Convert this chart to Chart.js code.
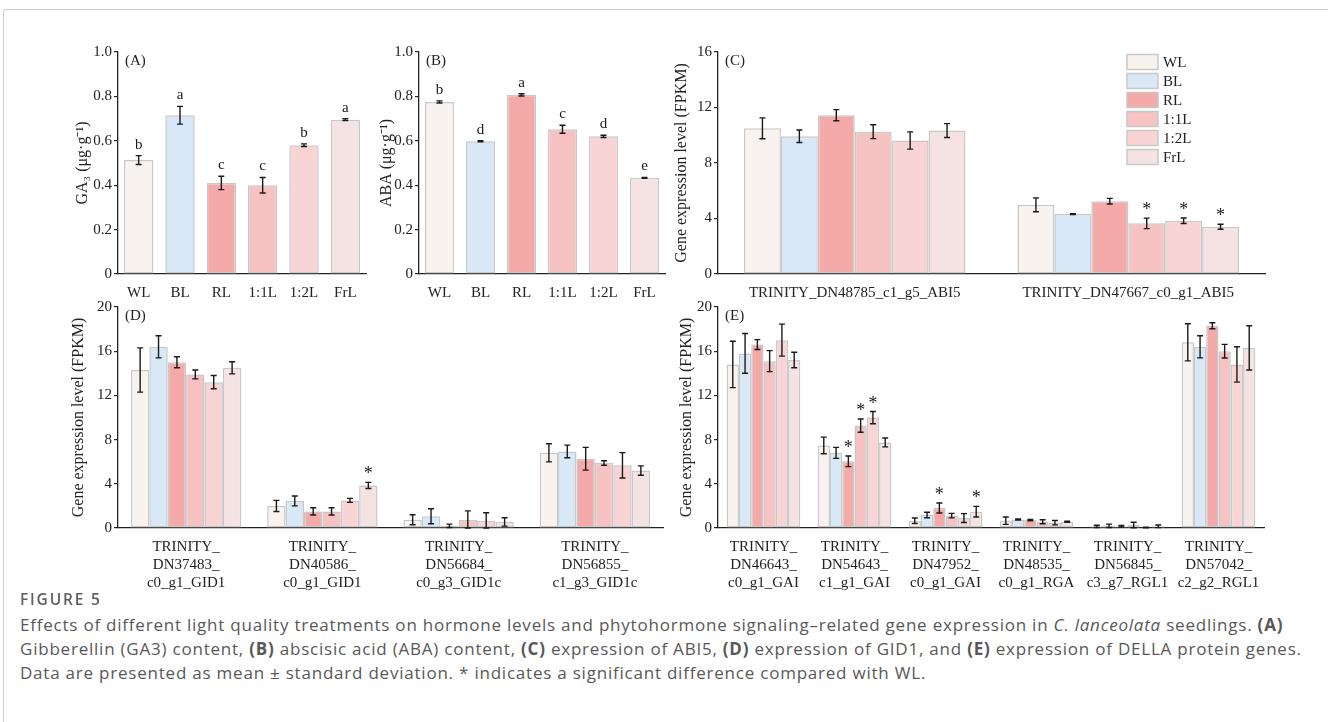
<!DOCTYPE html>
<html>
<head>
<meta charset="utf-8">
<script src="https://cdn.jsdelivr.net/npm/chart.js@4.4.0/dist/chart.umd.min.js"></script>
<style>
  body { margin: 0; background: #fff; width: 1328px; height: 722px; overflow: hidden; position: relative; }
  .frame { position: absolute; left: 3px; top: 9px; width: 1340px; height: 730px;
           border-top: 1.5px solid #cfcfcf; border-left: 1.5px solid #cfcfcf; border-top-left-radius: 3px; }
  canvas { position: absolute; }
  .fig { position: absolute; left: 20px; top: 588px; font-family: 'Open Sans', sans-serif; font-size: 15.5px;
         font-weight: 600; letter-spacing: 1.8px; color: #5f5f5f; }
  .cap { position: absolute; left: 20px; top: 613px; font-family: 'Open Sans', sans-serif; font-size: 17px;
         letter-spacing: 0.78px; line-height: 24px; color: #585858; white-space: nowrap; }
</style>
</head>
<body>
<div class="frame"></div>
<canvas id="chartA" width="332" height="277" style="left:40px;top:38px"></canvas>
<canvas id="chartB" width="300" height="277" style="left:372px;top:38px"></canvas>
<canvas id="chartC" width="600" height="277" style="left:672px;top:38px"></canvas>
<canvas id="chartD" width="632" height="310" style="left:40px;top:295px"></canvas>
<canvas id="chartE" width="600" height="310" style="left:672px;top:295px"></canvas>
<div class="fig">FIGURE 5</div>
<div class="cap">Effects of different light quality treatments on hormone levels and phytohormone signaling–related gene expression in <i>C. lanceolata</i> seedlings. <b>(A)</b><br>Gibberellin (GA3) content, <b>(B)</b> abscisic acid (ABA) content, <b>(C)</b> expression of ABI5, <b>(D)</b> expression of GID1, and <b>(E)</b> expression of DELLA protein genes.<br>Data are presented as mean ± standard deviation. * indicates a significant difference compared with WL.</div>
<script>
const treatments = ['WL', 'BL', 'RL', '1:1L', '1:2L', 'FrL'];
const fills = ['#f9f3ef', '#d8e8f7', '#f3aaa9', '#f6c3c2', '#f8d5d4', '#f5e3e3'];

// (A) GA3
const ga3 = [0.513, 0.715, 0.41, 0.40, 0.58, 0.695];
const ga3Sd = [0.02, 0.04, 0.03, 0.035, 0.006, 0.004];
const ga3Letters = ['b', 'a', 'c', 'c', 'b', 'a'];

// (B) ABA
const aba = [0.775, 0.598, 0.807, 0.652, 0.62, 0.433];
const abaSd = [0.005, 0.003, 0.005, 0.018, 0.005, 0.002];
const abaLetters = ['b', 'd', 'a', 'c', 'd', 'e'];

// (C) ABI5 - one row per treatment
const abi5Genes = ['TRINITY_DN48785_c1_g5_ABI5', 'TRINITY_DN47667_c0_g1_ABI5'];
const abi5Mean = [[10.5, 4.99], [9.93, 4.32], [11.45, 5.25], [10.26, 3.65], [9.62, 3.84], [10.34, 3.41]];
const abi5Sd = [[0.75, 0.5], [0.45, 0.03], [0.4, 0.2], [0.5, 0.38], [0.62, 0.2], [0.5, 0.18]];
const abi5Sig = [['', ''], ['', ''], ['', ''], ['', '*'], ['', '*'], ['', '*']];

// (D) GID1
const gid1Genes = [
  ['TRINITY_', 'DN37483_', 'c0_g1_GID1'],
  ['TRINITY_', 'DN40586_', 'c0_g1_GID1'],
  ['TRINITY_', 'DN56684_', 'c0_g3_GID1c'],
  ['TRINITY_', 'DN56855_', 'c1_g3_GID1c']
];
const gid1Mean = [
  [14.3, 2.0, 0.75, 6.8], [16.4, 2.45, 1.06, 6.93], [15.0, 1.5, 0.2, 6.27],
  [13.9, 1.5, 0.75, 5.88], [13.2, 2.5, 0.63, 5.67], [14.5, 3.85, 0.55, 5.2]
];
const gid1Sd = [
  [2.0, 0.5, 0.45, 0.82], [1.0, 0.45, 0.68, 0.57], [0.5, 0.33, 0.15, 1.03],
  [0.4, 0.33, 0.8, 0.2], [0.6, 0.18, 0.75, 1.15], [0.55, 0.28, 0.38, 0.42]
];
const gid1Sig = [['', '', '', ''], ['', '', '', ''], ['', '', '', ''], ['', '', '', ''], ['', '', '', ''], ['', '*', '', '']];

// (E) DELLA
const dellaGenes = [
  ['TRINITY_', 'DN46643_', 'c0_g1_GAI'],
  ['TRINITY_', 'DN54643_', 'c1_g1_GAI'],
  ['TRINITY_', 'DN47952_', 'c0_g1_GAI'],
  ['TRINITY_', 'DN48535_', 'c0_g1_RGA'],
  ['TRINITY_', 'DN56845_', 'c3_g7_RGL1'],
  ['TRINITY_', 'DN57042_', 'c2_g2_RGL1']
];
const dellaMean = [
  [14.8, 7.47, 0.66, 0.66, 0.15, 16.8], [15.8, 6.8, 1.18, 0.78, 0.2, 16.4],
  [16.6, 6.03, 1.81, 0.72, 0.15, 18.3], [15.1, 9.27, 1.12, 0.57, 0.27, 16.0],
  [17.0, 9.99, 0.9, 0.48, 0.05, 14.8], [15.2, 7.74, 1.48, 0.57, 0.15, 16.3]
];
const dellaSd = [
  [2.1, 0.75, 0.25, 0.33, 0.1, 1.68], [1.8, 0.5, 0.25, 0.05, 0.15, 1.0],
  [0.45, 0.48, 0.45, 0.06, 0.07, 0.27], [0.95, 0.6, 0.2, 0.18, 0.25, 0.62],
  [1.45, 0.55, 0.4, 0.2, 0.03, 1.6], [0.7, 0.4, 0.48, 0.05, 0.12, 2.0]
];
const dellaSig = [
  ['', '', '', '', '', ''], ['', '', '', '', '', ''], ['', '*', '*', '', '', ''],
  ['', '*', '', '', '', ''], ['', '*', '', '', '', ''], ['', '', '*', '', '', '']
];

const serif = "'Liberation Serif', 'Times New Roman', serif";
const ink = '#222';

// error bars, letters, panel tag and (optional) legend
const extras = {
  id: 'extras',
  afterDatasetsDraw(chart, args, opts) {
    const ctx = chart.ctx, y = chart.scales.y, area = chart.chartArea;
    ctx.save();
    ctx.strokeStyle = '#1a1a1a';
    ctx.fillStyle = '#1a1a1a';
    ctx.lineWidth = 1.4;
    chart.data.datasets.forEach((ds, i) => {
      chart.getDatasetMeta(i).data.forEach((bar, j) => {
        const v = ds.data[j], e = ds.errors[j];
        const top = y.getPixelForValue(v + e);
        const bot = y.getPixelForValue(Math.max(v - e, 0));
        const cap = 3;
        ctx.beginPath();
        ctx.moveTo(bar.x, top); ctx.lineTo(bar.x, bot);
        ctx.moveTo(bar.x - cap, top); ctx.lineTo(bar.x + cap, top);
        ctx.moveTo(bar.x - cap, bot); ctx.lineTo(bar.x + cap, bot);
        ctx.stroke();
        const mark = ds.marks && ds.marks[j];
        if (mark) {
          ctx.textAlign = 'center';
          ctx.textBaseline = 'alphabetic';
          if (mark === '*') {
            ctx.font = '18px ' + serif;
            ctx.fillText(mark, bar.x, top - 3);
          } else {
            ctx.font = '15px ' + serif;
            ctx.fillText(mark, bar.x, top - 7);
          }
        }
      });
    });
    ctx.font = '15px ' + serif;
    ctx.textAlign = 'left';
    ctx.textBaseline = 'top';
    ctx.fillStyle = ink;
    ctx.fillText(opts.tag, area.left + 7, area.top + 2);
    if (opts.legend) {
      const L = opts.legend;
      chart.data.datasets.forEach((ds, i) => {
        const cy = L.y + i * L.step;
        ctx.fillStyle = ds.backgroundColor;
        ctx.fillRect(L.x, cy - 7.5, 31, 15);
        ctx.strokeStyle = '#c8c8c8';
        ctx.lineWidth = 1.5;
        ctx.strokeRect(L.x, cy - 7.5, 31, 15);
        ctx.fillStyle = ink;
        ctx.textBaseline = 'middle';
        ctx.fillText(ds.label, L.x + 36, cy + 1);
      });
    }
    ctx.restore();
  }
};

function yAxis(max, step, title, width, titlePad, fmt) {
  return {
    min: 0, max: max,
    ticks: { stepSize: step, color: ink, padding: 2, font: { family: serif, size: 15 }, callback: fmt },
    grid: { display: true, drawOnChartArea: false, tickLength: 4, color: ink, lineWidth: 1.2 },
    border: { display: true, color: ink, width: 1.3 },
    title: { display: true, text: title, color: ink, font: { family: serif, size: 16 }, padding: { top: titlePad, bottom: 0 } },
    afterFit(s) { s.width = width; }
  };
}

function xAxis(height, pad) {
  return {
    grid: { display: false, drawTicks: false, tickLength: 0 },
    border: { display: true, color: ink, width: 1.3 },
    ticks: { color: ink, padding: pad, maxRotation: 0, autoSkip: false, font: { family: serif, size: 15, lineHeight: 1.2 } },
    afterFit(s) { s.height = height; }
  };
}

function groupedSets(mean, sd, sig) {
  return treatments.map((t, i) => ({
    label: t,
    data: mean[i],
    errors: sd[i],
    marks: sig[i],
    backgroundColor: fills[i],
    borderColor: '#c8c8c8',
    borderWidth: 1.5,
    borderSkipped: false,
    categoryPercentage: 0.81,
    barPercentage: 1.0
  }));
}

const oneDecimal = v => v === 0 ? '0' : v.toFixed(1);
const integer = v => String(Math.round(v));

function makeChart(id, labels, datasets, y, x, padding, tag, legend) {
  return new Chart(document.getElementById(id), {
    type: 'bar',
    data: { labels: labels, datasets: datasets },
    options: {
      responsive: false,
      animation: false,
      layout: { padding: padding },
      plugins: { legend: { display: false }, tooltip: { enabled: false }, extras: { tag: tag, legend: legend } },
      scales: { x: x, y: y }
    },
    plugins: [extras]
  });
}

const singleSet = (vals, sd, letters) => [{
  label: 'mean',
  data: vals,
  errors: sd,
  marks: letters,
  backgroundColor: fills,
  borderColor: '#c8c8c8',
  borderWidth: 1.5,
  borderSkipped: false,
  categoryPercentage: 1.0,
  barPercentage: 0.71
}];

makeChart('chartA', treatments, singleSet(ga3, ga3Sd, ga3Letters),
  yAxis(1.0, 0.2, 'GA\u2083 (\u03bcg\u00b7g\u207b\u00b9)', 78, 33, oneDecimal),
  xAxis(41, 10), { top: 14, right: 6, bottom: 0, left: 0 }, '(A)');

makeChart('chartB', treatments, singleSet(aba, abaSd, abaLetters),
  yAxis(1.0, 0.2, 'ABA (\u03bcg\u00b7g\u207b\u00b9)', 47, 5, oneDecimal),
  xAxis(41, 10), { top: 14, right: 7, bottom: 0, left: 0 }, '(B)');

makeChart('chartC', abi5Genes, groupedSets(abi5Mean, abi5Sd, abi5Sig),
  yAxis(16, 4, 'Gene expression level (FPKM)', 46, 0, integer),
  xAxis(41, 10), { top: 14, right: 7, bottom: 0, left: 0 }, '(C)', { x: 455, y: 24, step: 19 });

makeChart('chartD', gid1Genes, groupedSets(gid1Mean, gid1Sd, gid1Sig),
  yAxis(20, 4, 'Gene expression level (FPKM)', 78, 29, integer),
  xAxis(77, 10), { top: 12, right: 9, bottom: 0, left: 0 }, '(D)');

makeChart('chartE', dellaGenes, groupedSets(dellaMean, dellaSd, dellaSig),
  yAxis(20, 4, 'Gene expression level (FPKM)', 46, 5, integer),
  xAxis(77, 10), { top: 12, right: 8, bottom: 0, left: 0 }, '(E)');
</script>
</body>
</html>
